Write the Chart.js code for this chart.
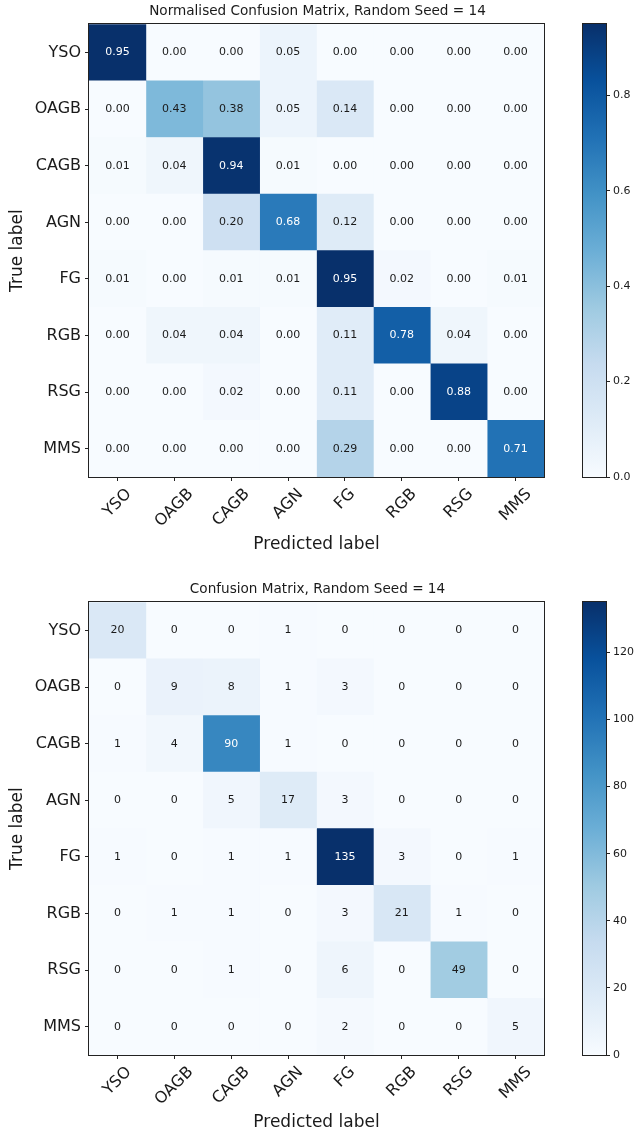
<!DOCTYPE html>
<html>
<head>
<meta charset="utf-8">
<script src="https://cdn.jsdelivr.net/npm/chart.js@4"></script>
<style>
  html, body { margin: 0; padding: 0; background: #fff; overflow: hidden; }
  canvas { position: absolute; }
</style>
</head>
<body>
<canvas id="normHeat" width="635" height="555" style="left:0;top:0"></canvas>
<canvas id="normBar" width="60" height="555" style="left:575px;top:0"></canvas>
<canvas id="countHeat" width="635" height="555" style="left:0;top:578px"></canvas>
<canvas id="countBar" width="60" height="555" style="left:575px;top:578px"></canvas>
<script>
const classes = ['YSO', 'OAGB', 'CAGB', 'AGN', 'FG', 'RGB', 'RSG', 'MMS']

// rows = true label, columns = predicted label
const normRows = [
  [0.95, 0.00, 0.00, 0.05, 0.00, 0.00, 0.00, 0.00],
  [0.00, 0.43, 0.38, 0.05, 0.14, 0.00, 0.00, 0.00],
  [0.01, 0.04, 0.94, 0.01, 0.00, 0.00, 0.00, 0.00],
  [0.00, 0.00, 0.20, 0.68, 0.12, 0.00, 0.00, 0.00],
  [0.01, 0.00, 0.01, 0.01, 0.95, 0.02, 0.00, 0.01],
  [0.00, 0.04, 0.04, 0.00, 0.11, 0.78, 0.04, 0.00],
  [0.00, 0.00, 0.02, 0.00, 0.11, 0.00, 0.88, 0.00],
  [0.00, 0.00, 0.00, 0.00, 0.29, 0.00, 0.00, 0.71]
]

const countRows = [
  [20, 0, 0, 1, 0, 0, 0, 0],
  [0, 9, 8, 1, 3, 0, 0, 0],
  [1, 4, 90, 1, 0, 0, 0, 0],
  [0, 0, 5, 17, 3, 0, 0, 0],
  [1, 0, 1, 1, 135, 3, 0, 1],
  [0, 1, 1, 0, 3, 21, 1, 0],
  [0, 0, 1, 0, 6, 0, 49, 0],
  [0, 0, 0, 0, 2, 0, 0, 5]
]

const normTicks = [0, 0.2, 0.4, 0.6, 0.8]
const countTicks = [0, 20, 40, 60, 80, 100, 120]

const FONT = "'DejaVu Sans', sans-serif"
const INK = '#1a1a1a'
Chart.defaults.font.family = FONT

// matplotlib "Blues"
const bluesStops = ['#f7fbff', '#deebf7', '#c6dbef', '#9ecae1', '#6baed6', '#4292c6', '#2171b5', '#08519c', '#08306b']
const hexRgb = h => [1, 3, 5].map(k => parseInt(h.slice(k, k + 2), 16))
function blues(t) {
  t = Math.min(1, Math.max(0, t))
  const p = t * 8
  const i = Math.min(7, Math.floor(p))
  const f = p - i
  const a = hexRgb(bluesStops[i]), b = hexRgb(bluesStops[i + 1])
  const c = a.map((v, k) => Math.round(v + (b[k] - v) * f))
  return `rgb(${c[0]}, ${c[1]}, ${c[2]})`
}

const framePlugin = {
  id: 'frame',
  afterDatasetsDraw(chart) {
    const {ctx, chartArea: a} = chart
    ctx.save()
    ctx.strokeStyle = '#222'
    ctx.lineWidth = 1
    ctx.strokeRect(Math.round(a.left) - 0.5, Math.round(a.top) - 0.5, Math.round(a.right - a.left) + 1, Math.round(a.bottom - a.top) + 1)
    ctx.restore()
  }
}

function makeHeat(id, rows, title, fmt) {
  const vmax = Math.max(...rows.flat())

  const cellText = {
    id: 'cellText',
    afterDatasetsDraw(chart) {
      const ctx = chart.ctx
      ctx.save()
      ctx.font = `11px ${FONT}`
      ctx.textAlign = 'center'
      ctx.textBaseline = 'middle'
      chart.data.datasets.forEach((ds, j) => {
        chart.getDatasetMeta(j).data.forEach((bar, i) => {
          const v = rows[i][j]
          ctx.fillStyle = v > vmax / 2 ? '#ffffff' : INK
          ctx.fillText(fmt(v), (bar.x + bar.base) / 2, bar.y)
        })
      })
      ctx.restore()
    }
  }

  // rotated x tick labels, centred under the tick like matplotlib rotation=45
  const xLabels = {
    id: 'xLabels',
    afterDraw(chart) {
      const {ctx, scales: {x}, chartArea} = chart
      ctx.save()
      ctx.font = `16px ${FONT}`
      ctx.fillStyle = INK
      ctx.textAlign = 'center'
      ctx.textBaseline = 'middle'
      x.ticks.forEach((t, i) => {
        const w = ctx.measureText(classes[i]).width
        const px = x.getPixelForValue(t.value)
        const py = chartArea.bottom + 9 + (w + 16) * 0.3536
        ctx.save()
        ctx.translate(px, py)
        ctx.rotate(-Math.PI / 4)
        ctx.fillText(classes[i], 0, 0)
        ctx.restore()
      })
      ctx.restore()
    }
  }

  return new Chart(document.getElementById(id), {
    type: 'bar',
    data: {
      labels: classes,
      datasets: classes.map((c, j) => ({
        label: c,
        data: rows.map(() => 1),
        backgroundColor: rows.map(r => blues(r[j] / vmax)),
        borderWidth: 0,
        barPercentage: 1,
        categoryPercentage: 1,
        xAxisID: 'x',
        yAxisID: 'y'
      }))
    },
    options: {
      responsive: false,
      animation: false,
      indexAxis: 'y',
      layout: {padding: 0},
      plugins: {
        legend: {display: false},
        tooltip: {enabled: false},
        title: {
          display: true,
          text: title,
          color: INK,
          font: {size: 13.6, weight: 'normal'},
          padding: {top: 3, bottom: 5}
        }
      },
      scales: {
        x: {
          type: 'linear',
          stacked: true,
          min: 0,
          max: classes.length,
          afterBuildTicks: s => { s.ticks = classes.map((c, i) => ({value: i + 0.5})) },
          afterFit: s => { s.height = 78 },
          ticks: {display: false},
          grid: {drawOnChartArea: false, tickLength: 4, color: '#222'},
          border: {display: false},
          title: {display: true, text: 'Predicted label', color: INK, font: {size: 17}, padding: {top: 0, bottom: 0}}
        },
        y: {
          type: 'category',
          stacked: true,
          afterFit: s => { s.width = 89 },
          ticks: {color: INK, font: {size: 16}, padding: 4},
          grid: {offset: false, drawOnChartArea: false, tickLength: 4, color: '#222'},
          border: {display: false},
          title: {display: true, text: 'True label', color: INK, font: {size: 17}, padding: {top: 7, bottom: 0}}
        },
        y2: {
          type: 'linear',
          position: 'right',
          min: 0,
          max: 1,
          afterFit: s => { s.width = 91 },
          ticks: {display: false},
          grid: {display: false},
          border: {display: false}
        }
      }
    },
    plugins: [framePlugin, cellText, xLabels]
  })
}

function makeColorbar(id, rows, tickVals, fmt) {
  const vmax = Math.max(...rows.flat())
  return new Chart(document.getElementById(id), {
    type: 'bar',
    data: {
      labels: [''],
      datasets: [{
        data: [vmax],
        backgroundColor: c => {
          const area = c.chart.chartArea
          if (!area) return bluesStops[0]
          const g = c.chart.ctx.createLinearGradient(0, area.bottom, 0, area.top)
          bluesStops.forEach((col, i) => g.addColorStop(i / 8, col))
          return g
        },
        borderWidth: 0,
        barPercentage: 1,
        categoryPercentage: 1
      }]
    },
    options: {
      responsive: false,
      animation: false,
      layout: {padding: {left: 8, top: 24, bottom: 78, right: 0}},
      plugins: {legend: {display: false}, tooltip: {enabled: false}},
      scales: {
        x: {display: false},
        y: {
          position: 'right',
          min: 0,
          max: vmax,
          afterBuildTicks: s => { s.ticks = tickVals.map(v => ({value: v})) },
          afterFit: s => { s.width = 29 },
          ticks: {callback: v => fmt(v), color: INK, font: {size: 11}, padding: 3},
          grid: {drawOnChartArea: false, tickLength: 4, color: '#222'},
          border: {display: false}
        }
      }
    },
    plugins: [framePlugin]
  })
}

makeHeat('normHeat', normRows, 'Normalised Confusion Matrix, Random Seed = 14', v => v.toFixed(2))
makeColorbar('normBar', normRows, normTicks, v => v.toFixed(1))
makeHeat('countHeat', countRows, 'Confusion Matrix, Random Seed = 14', v => String(v))
makeColorbar('countBar', countRows, countTicks, v => String(v))
</script>
</body>
</html>
